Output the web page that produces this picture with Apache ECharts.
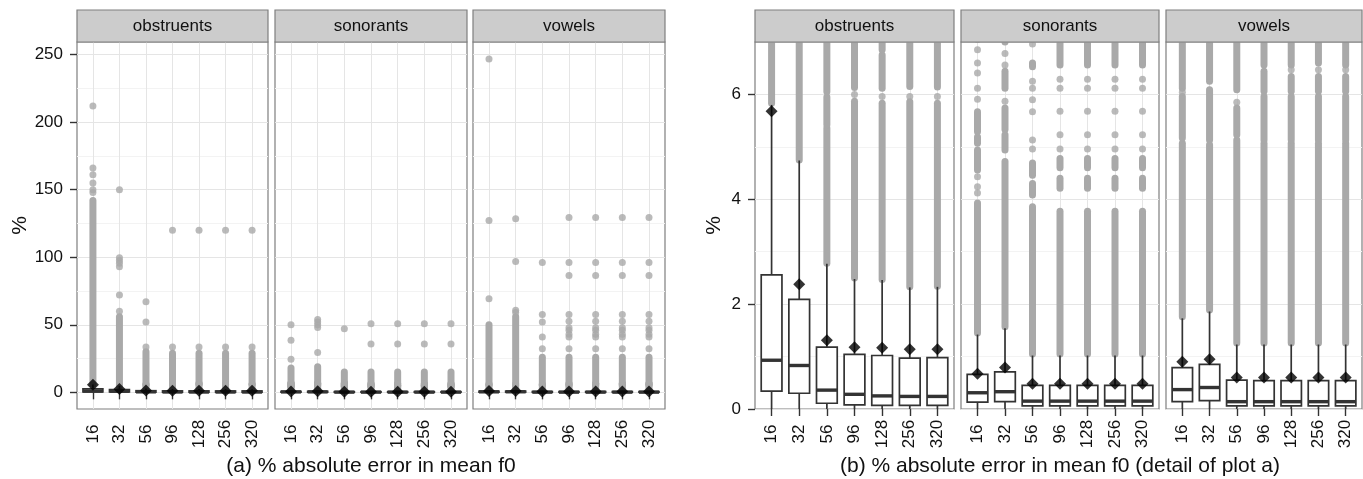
<!DOCTYPE html>
<html><head><meta charset="utf-8">
<script src="https://cdn.jsdelivr.net/npm/echarts@6/dist/echarts.min.js"></script>
<style>html,body{margin:0;padding:0;background:#fff}#c{width:1363px;height:479px}</style>
</head><body><div id="c"></div>
<script>
// ---------- DATA ----------
const categories = ['16', '32', '56', '96', '128', '256', '320'];
const facets = ['obstruents', 'sonorants', 'vowels'];
const titleA = '(a) % absolute error in mean f0';
const titleB = '(b) % absolute error in mean f0 (detail of plot a)';
const yTicksA = [0, 50, 100, 150, 200, 250];
const yMinorA = [25, 75, 125, 175, 225];
const yTicksB = [0, 2, 4, 6];
const yMinorB = [1, 3, 5];

// box stats: [lower whisker, Q1, median, Q3, upper whisker]
const obstruentsBox = [
  [0, 0.34, 0.93, 2.56, 5.80],
  [0, 0.30, 0.83, 2.09, 4.74],
  [0, 0.11, 0.36, 1.18, 2.77],
  [0, 0.08, 0.28, 1.04, 2.48],
  [0, 0.07, 0.25, 1.02, 2.46],
  [0, 0.07, 0.24, 0.97, 2.32],
  [0, 0.07, 0.24, 0.98, 2.33]
];
const sonorantsBox = [
  [0, 0.13, 0.31, 0.66, 1.42],
  [0, 0.14, 0.33, 0.71, 1.54],
  [0, 0.06, 0.15, 0.45, 1.02],
  [0, 0.06, 0.15, 0.45, 1.02],
  [0, 0.06, 0.15, 0.45, 1.02],
  [0, 0.06, 0.15, 0.45, 1.02],
  [0, 0.06, 0.15, 0.45, 1.02]
];
const vowelsBox = [
  [0, 0.14, 0.37, 0.79, 1.73],
  [0, 0.16, 0.41, 0.85, 1.86],
  [0, 0.06, 0.14, 0.55, 1.23],
  [0, 0.06, 0.14, 0.54, 1.23],
  [0, 0.06, 0.14, 0.54, 1.23],
  [0, 0.06, 0.14, 0.54, 1.23],
  [0, 0.06, 0.14, 0.54, 1.23]
];
// means (diamonds)
const obstruentsMean = [5.68, 2.38, 1.31, 1.18, 1.17, 1.14, 1.14];
const sonorantsMean = [0.67, 0.79, 0.48, 0.48, 0.48, 0.48, 0.48];
const vowelsMean = [0.90, 0.95, 0.60, 0.60, 0.60, 0.60, 0.60];

// dense runs of overlapping outliers: [from, to]
const obstruentsRuns = [
  [[5.83, 142]],
  [[4.75, 56]],
  [[2.78, 5.36], [5.42, 5.95], [6.05, 30]],
  [[2.50, 5.87], [6.13, 29]],
  [[2.47, 5.83], [6.12, 6.75], [6.85, 29]],
  [[2.33, 5.86], [6.15, 29]],
  [[2.34, 5.83], [6.14, 29]]
];
// single outliers
const obstruentsDots = [
  [148, 150, 155, 161, 166, 212],
  [60, 72, 93, 95.5, 97.5, 99.6, 150],
  [33.5, 52, 67],
  [6.0, 33.5, 120],
  [5.96, 33.5, 120],
  [5.96, 33.5, 120],
  [5.96, 33.5, 120]
];
const sonorantsRuns = [
  [[1.45, 3.93], [4.56, 4.94], [5.07, 5.19], [5.29, 5.67], [7.05, 18]],
  [[1.57, 4.72], [4.94, 5.23], [5.33, 5.74], [6.12, 6.44], [7.0, 19]],
  [[1.05, 3.86], [4.08, 4.30], [4.46, 4.69], [6.53, 6.60], [7.05, 15]],
  [[1.05, 3.77], [4.21, 4.40], [4.60, 4.78], [6.56, 15]],
  [[1.05, 3.77], [4.21, 4.40], [4.60, 4.78], [6.56, 15]],
  [[1.05, 3.77], [4.21, 4.40], [4.60, 4.78], [6.56, 15]],
  [[1.05, 3.77], [4.21, 4.40], [4.60, 4.78], [6.56, 15]]
];
const sonorantsDots = [
  [4.12, 4.24, 4.43, 5.91, 6.12, 6.41, 6.60, 6.85, 24.5, 38.5, 50],
  [5.87, 6.56, 6.78, 29.4, 48, 50, 52, 54],
  [4.96, 5.13, 5.67, 5.90, 6.12, 6.25, 6.96, 47.1],
  [4.96, 5.23, 5.68, 6.12, 6.29, 35.7, 50.8],
  [4.96, 5.23, 5.68, 6.12, 6.29, 35.7, 50.8],
  [4.96, 5.23, 5.68, 6.12, 6.29, 35.7, 50.8],
  [4.96, 5.23, 5.68, 6.12, 6.29, 35.7, 50.8]
];
const vowelsRuns = [
  [[1.76, 5.07], [5.17, 5.96], [6.12, 50]],
  [[1.89, 5.04], [5.13, 6.09], [6.25, 56]],
  [[1.26, 5.13], [5.23, 5.74], [6.09, 26]],
  [[1.26, 5.07], [5.13, 5.96], [6.06, 6.44], [6.56, 26]],
  [[1.26, 5.07], [5.13, 5.96], [6.06, 6.34], [6.56, 26]],
  [[1.26, 5.07], [5.13, 5.96], [6.06, 6.34], [6.60, 26]],
  [[1.26, 5.07], [5.13, 5.96], [6.06, 6.34], [6.56, 26]]
];
const vowelsDots = [
  [6.04, 69.3, 127.2, 246.8],
  [59, 60.7, 96.9, 128.5],
  [5.85, 32.3, 41, 52, 57.7, 96.2],
  [32.3, 40.9, 43, 46, 47.8, 52.7, 57.7, 86.5, 96.2, 129.4],
  [6.47, 32.3, 40.9, 43, 46, 47.8, 52.7, 57.7, 86.5, 96.2, 129.4],
  [6.47, 32.3, 40.9, 43, 46, 47.8, 52.7, 57.7, 86.5, 96.2, 129.4],
  [6.47, 32.3, 40.9, 43, 46, 47.8, 52.7, 57.7, 86.5, 96.2, 129.4]
];

// ---------- BUILD ----------
const boxes = [obstruentsBox, sonorantsBox, vowelsBox];
const means = [obstruentsMean, sonorantsMean, vowelsMean];
const runs = [obstruentsRuns, sonorantsRuns, vowelsRuns];
const dots = [obstruentsDots, sonorantsDots, vowelsDots];

const FONT = 'Liberation Sans, Arial, Helvetica, sans-serif';
const TXT = '#111';
const panels = [
  {left: 77, width: 191}, {left: 275, width: 192}, {left: 473, width: 192},
  {left: 755, width: 199}, {left: 961, width: 198}, {left: 1166, width: 196}
];
const TOP = 42, H = 367;
const xIdx = categories.map((c, i) => i + 1);

const grid = [], xAxis = [], yAxis = [], yMinor = [], series = [], graphic = [];

panels.forEach((p, g) => {
  const f = g % 3;
  const isA = g < 3;
  const first = f === 0;
  grid.push({left: p.left, top: TOP, width: p.width, height: H, show: true,
    backgroundColor: '#fff', borderColor: '#7F7F7F', borderWidth: 1.2, containLabel: false, outerBoundsMode: 'none'});
  xAxis.push({
    type: 'value', gridIndex: g, min: 0.4, max: 7.6,
    axisLine: {show: false},
    axisTick: {show: true, customValues: xIdx, length: 7, lineStyle: {color: '#333', width: 1.4}},
    axisLabel: {show: true, customValues: xIdx, formatter: v => categories[Math.round(v) - 1],
      rotate: 90, align: 'center', verticalAlign: 'middle', margin: 25,
      fontSize: 17, color: TXT, fontFamily: FONT},
    splitLine: {show: true, lineStyle: {color: '#E5E5E5', width: 1}},
    name: f === 1 ? (isA ? titleA : titleB) : '',
    nameLocation: 'middle', nameGap: 57,
    nameTextStyle: {fontSize: 21, color: TXT, fontFamily: FONT, align: 'center', verticalAlign: 'middle'}
  });
  const yMin = isA ? -12.35 : 0, yMax = isA ? 259.35 : 7;
  const ticks = isA ? yTicksA : yTicksB;
  yAxis.push({
    type: 'value', gridIndex: g, min: yMin, max: yMax,
    axisLine: {show: false},
    axisTick: {show: first, customValues: ticks, length: 7, lineStyle: {color: '#333', width: 1.4}},
    axisLabel: {show: first, customValues: ticks, margin: 14, fontSize: 17, color: TXT, fontFamily: FONT},
    splitLine: {show: true, lineStyle: {color: '#E5E5E5', width: 1}},
    name: first ? '%' : '', nameLocation: 'middle', nameGap: 41, nameRotate: 90,
    nameTextStyle: {fontSize: 21, color: TXT, fontFamily: FONT, align: 'center', verticalAlign: 'middle'}
  });
  yMinor.push({
    type: 'value', gridIndex: g, min: yMin, max: yMax, position: 'left',
    axisLine: {show: false},
    axisTick: {show: false, customValues: isA ? yMinorA : yMinorB},
    axisLabel: {show: false},
    splitLine: {show: true, lineStyle: {color: '#F3F3F3', width: 1}}
  });

  // strip
  graphic.push({type: 'rect', shape: {x: p.left, y: 10, width: p.width, height: 32},
    style: {fill: '#CCCCCC', stroke: '#7F7F7F', lineWidth: 1.2}, z: 10});
  graphic.push({type: 'text', x: p.left + p.width / 2, y: 26,
    style: {text: facets[f], font: '17px ' + FONT, fill: '#111', align: 'center', verticalAlign: 'middle',
      textAlign: 'center', textVerticalAlign: 'middle'}, z: 11});

  // runs of outliers
  const runData = [];
  runs[f].forEach((rs, i) => rs.forEach(r => runData.push([i + 1, r[0], r[1]])));
  series.push({
    type: 'custom', xAxisIndex: g, yAxisIndex: g, clip: true, z: 2, silent: true,
    encode: {x: 0, y: [1, 2]}, data: runData,
    renderItem: (params, api) => {
      const a = api.coord([api.value(0), api.value(1)]);
      const b = api.coord([api.value(0), api.value(2)]);
      return {type: 'line', shape: {x1: a[0], y1: a[1], x2: b[0], y2: b[1]},
        style: {stroke: '#A9A9A9', lineWidth: 7, lineCap: 'round'}};
    }
  });
  // single outliers
  const dotData = [];
  dots[f].forEach((ds, i) => ds.forEach(v => dotData.push([i + 1, v])));
  series.push({
    type: 'scatter', xAxisIndex: g, yAxisIndex: g, clip: true, z: 2, silent: true,
    symbol: 'circle', symbolSize: 7, itemStyle: {color: '#A9A9A9'}, data: dotData
  });
  // boxes
  series.push({
    type: 'custom', xAxisIndex: g, yAxisIndex: g, clip: true, z: 3, silent: true,
    encode: {x: 0, y: [1, 2, 3, 4, 5]},
    data: boxes[f].map((b, i) => [i + 1].concat(b)),
    renderItem: (params, api) => {
      const x = api.value(0);
      const hw = api.size([0.75, 0])[0] / 2;
      const c = k => api.coord([x, api.value(k)]);
      const lo = c(1), q1 = c(2), md = c(3), q3 = c(4), hi = c(5);
      const st = {stroke: '#333', lineWidth: 1.7};
      return {type: 'group', children: [
        {type: 'line', shape: {x1: lo[0], y1: lo[1], x2: q1[0], y2: q1[1]}, style: st},
        {type: 'line', shape: {x1: q3[0], y1: q3[1], x2: hi[0], y2: hi[1]}, style: st},
        {type: 'rect', shape: {x: q3[0] - hw, y: q3[1], width: 2 * hw, height: q1[1] - q3[1]},
          style: {fill: '#fff', stroke: '#333', lineWidth: 1.7}},
        {type: 'line', shape: {x1: md[0] - hw, y1: md[1], x2: md[0] + hw, y2: md[1]},
          style: {stroke: '#333', lineWidth: 3.4}}
      ]};
    }
  });
  // means
  series.push({
    type: 'scatter', xAxisIndex: g, yAxisIndex: g, clip: true, z: 4, silent: true,
    symbol: 'diamond', symbolSize: 12, itemStyle: {color: '#000'},
    data: means[f].map((m, i) => [i + 1, m])
  });
});

const chart = echarts.init(document.getElementById('c'), null, {renderer: 'canvas'});
chart.setOption({
  animation: false,
  backgroundColor: '#fff',
  grid, xAxis, yAxis: yAxis.concat(yMinor), series, graphic
});
</script>
</body></html>
